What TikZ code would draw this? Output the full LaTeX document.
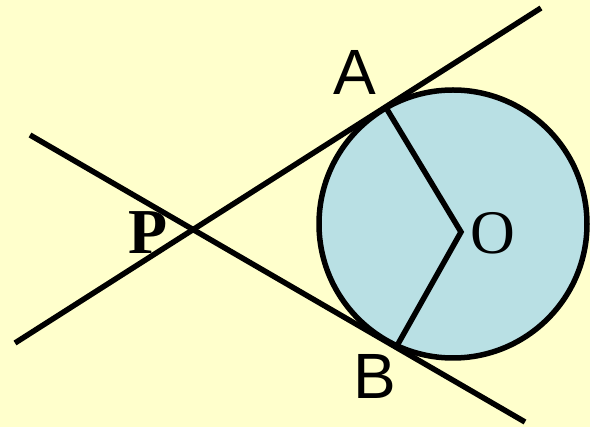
\documentclass[tikz,border=0pt]{standalone}
\usepackage{fontspec}
\setmainfont{Liberation Serif}
\newfontfamily\labsans{Liberation Sans}
\definecolor{bgyellow}{RGB}{255,255,204}
\definecolor{discblue}{RGB}{185,224,228}
\begin{document}
\begin{tikzpicture}[x=1pt,y=-1pt,
  stroke/.style={line width=5.5pt,black},
  sanslab/.style={font=\labsans\fontsize{64}{64}\selectfont,inner sep=0pt},
  seriflab/.style={font=\fontsize{62}{62}\selectfont,inner sep=0pt}]
\fill[bgyellow] (0,0) rectangle (590,427);
\useasboundingbox (0,0) rectangle (590,427);
\node[circle,draw,stroke,fill=discblue,minimum size=268pt,inner sep=0pt] (circ) at (453,224) {};
\coordinate (l1a) at (15,343);
\coordinate (l1b) at (541,8);
\coordinate (l2a) at (30,135);
\coordinate (l2b) at (525,422);
\coordinate (A) at (385,106);
\coordinate (B) at (398,344);
\coordinate (O) at (461,232);
\draw[stroke] (l1a) -- (l1b);
\draw[stroke] (l2a) -- (l2b);
\draw[stroke,line join=miter] (A) -- (O) -- (B);
\node[sanslab] (labA) at (355,72) {A};
\node[sanslab] (labB) at (375,376) {B};
\node[seriflab,font=\bfseries\fontsize{64}{64}\selectfont] (labP) at (148,233) {P};
\node[seriflab] (labO) at (493,233) {O};
\end{tikzpicture}
\end{document}
